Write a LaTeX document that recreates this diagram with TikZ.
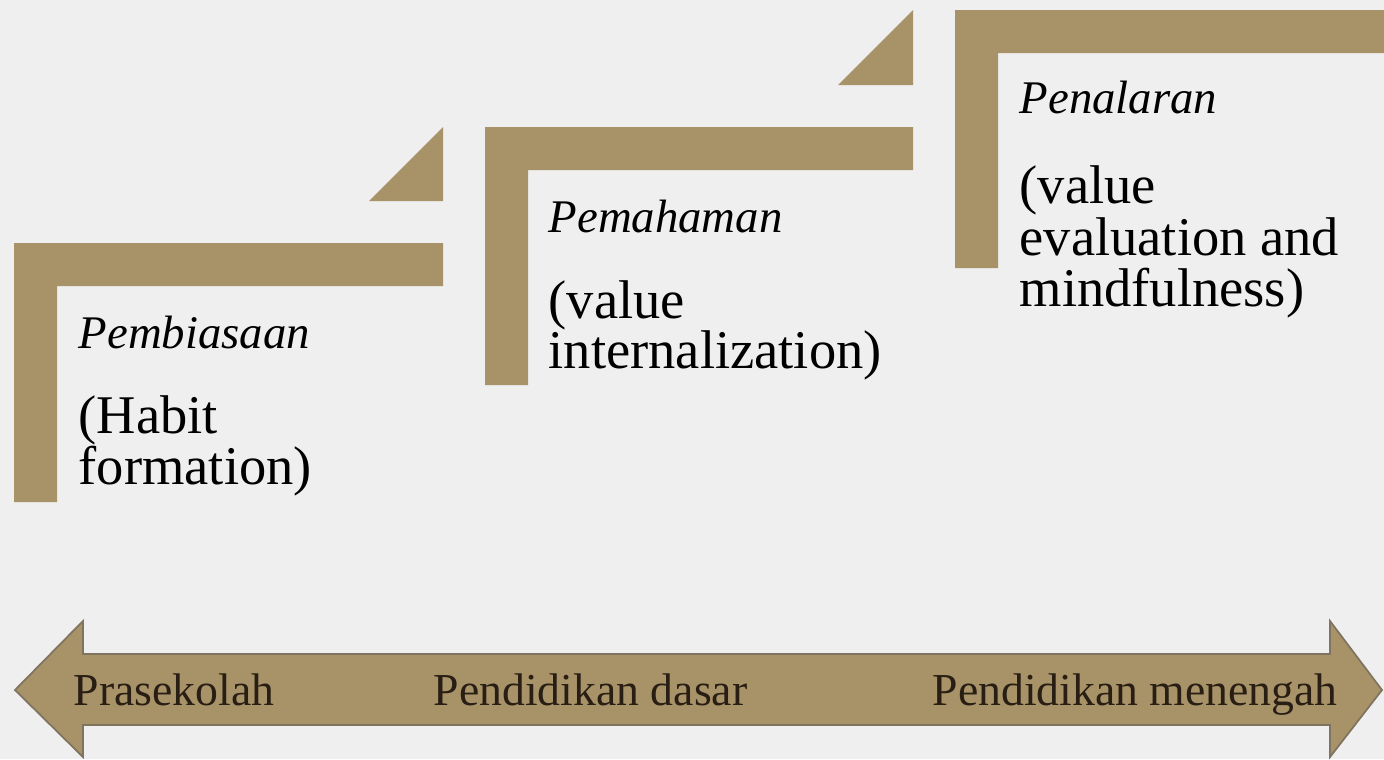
\documentclass[tikz,border=0pt]{standalone}
\usepackage{fontspec}
\setmainfont{Liberation Serif}
\usetikzlibrary{positioning}
\definecolor{tan}{RGB}{168,146,104}
\definecolor{bgcol}{RGB}{239,239,239}
\definecolor{rim}{RGB}{128,116,96}
\definecolor{ink}{RGB}{40,30,20}
\begin{document}
\begin{tikzpicture}[x=0.01cm,y=-0.01cm,
  title/.style={anchor=base west,inner sep=0pt,font=\fontsize{13.3}{16}\selectfont\itshape},
  desc/.style={anchor=base west,inner sep=0pt,font=\fontsize{15.5}{18}\selectfont},
  stage/.style={anchor=base west,inner sep=0pt,text=ink,font=\fontsize{13}{15}\selectfont}]
  \fill[bgcol] (0,0) rectangle (1384,759);
  \useasboundingbox (0,0) rectangle (1384,759);

  \fill[tan] (14,243) -- (443,243) -- (443,286) -- (57,286) -- (57,502) -- (14,502) -- cycle;
  \fill[tan] (443,127) -- (443,201) -- (369,201) -- cycle;
  \fill[tan] (485,127) -- (913,127) -- (913,170) -- (528,170) -- (528,385) -- (485,385) -- cycle;
  \fill[tan] (913,10) -- (913,85) -- (838,85) -- cycle;
  \fill[tan] (955,10) -- (1384,10) -- (1384,53) -- (998,53) -- (998,268) -- (955,268) -- cycle;

  \filldraw[fill=tan,draw=rim,line width=0.5pt] (15,690) -- (83,621) -- (83,654) -- (1330,654) -- (1330,621)
    -- (1382,690) -- (1330,757) -- (1330,725) -- (83,725) -- (83,757) -- cycle;

  \node[title] (pembiasaan) at (78,348) {Pembiasaan};
  \node[desc] (habit) at (78,433) {(Habit};
  \node[desc] (formation) at (78,484) {formation)};

  \node[title] (pemahaman) at (548,232) {Pemahaman};
  \node[desc] (value1) at (548,318) {(value};
  \node[desc] (internal) at (548,368) {internalization)};

  \node[title] (penalaran) at (1019,113) {Penalaran};
  \node[desc] (value2) at (1019,203) {(value};
  \node[desc] (evaluation) at (1019,255) {evaluation and};
  \node[desc] (mindful) at (1019,306) {mindfulness)};

  \node[stage] (prasekolah) at (73,705) {Prasekolah};
  \node[stage] (dasar) at (433,705) {Pendidikan dasar};
  \node[stage] (menengah) at (932,705) {Pendidikan menengah};
\end{tikzpicture}
\end{document}
